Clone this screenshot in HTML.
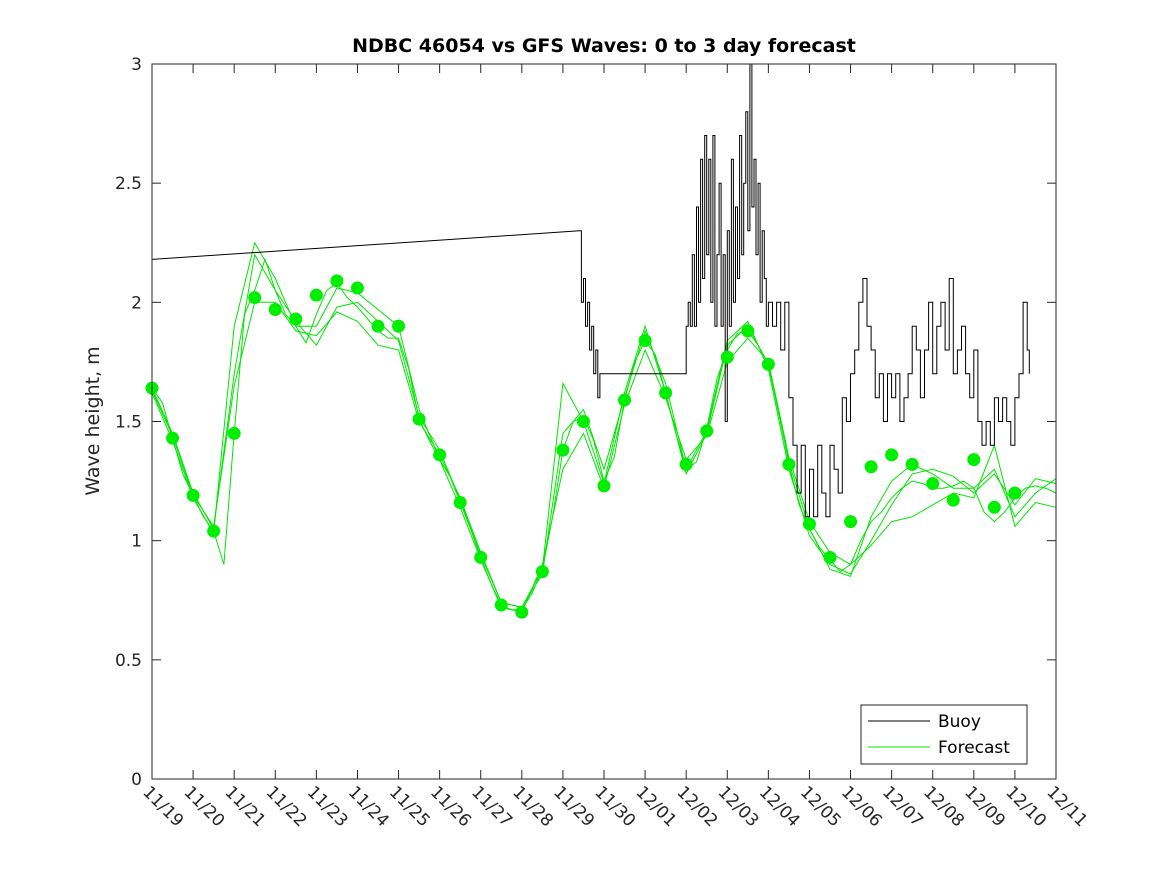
<!DOCTYPE html>
<html><head><meta charset="utf-8"><style>
body{margin:0;background:#fff;}
svg{display:block;font-family:"DejaVu Sans","Liberation Sans",sans-serif;}
</style></head><body>
<svg id="chart" width="1167" height="875" viewBox="0 0 1167 875" xmlns="http://www.w3.org/2000/svg">
<rect width="1167" height="875" fill="#fff"/>
<text x="604" y="52" text-anchor="middle" font-size="19" font-weight="bold" fill="#000">NDBC 46054 vs GFS Waves: 0 to 3 day forecast</text>
<text transform="translate(99,421) rotate(-90)" text-anchor="middle" font-size="19" fill="#262626">Wave height, m</text>
<g id="plot"></g>
</svg>
<script>
const xLabels=["11/19","11/20","11/21","11/22","11/23","11/24","11/25","11/26","11/27","11/28","11/29","11/30","12/01","12/02","12/03","12/04","12/05","12/06","12/07","12/08","12/09","12/10","12/11"];
const yTicks=[0,0.5,1,1.5,2,2.5,3];
const dotT=[0,0.5,1,1.5,2,2.5,3,3.5,4,4.5,5,5.5,6,6.5,7,7.5,8,8.5,9,9.5,10,10.5,11,11.5,12,12.5,13,13.5,14,14.5,15,15.5,16,16.5,17,17.5,18,18.5,19,19.5,20,20.5,21];
const dotV=[1.64,1.43,1.19,1.04,1.45,2.02,1.97,1.93,2.03,2.09,2.06,1.90,1.90,1.51,1.36,1.16,0.93,0.73,0.70,0.87,1.38,1.50,1.23,1.59,1.84,1.62,1.32,1.46,1.77,1.88,1.74,1.32,1.07,0.93,1.08,1.31,1.36,1.32,1.24,1.17,1.34,1.14,1.20];
const runBase=[1.64,1.58,1.43,1.28,1.19,1.10,1.04,0.90,1.45,1.95,2.05,2.18,2.05,1.95,1.90,1.83,1.95,2.05,2.08,2.02,1.98,1.93,1.88,1.85,1.85,1.72,1.51,1.42,1.34,1.27,1.16,1.05,0.93,0.82,0.73,0.71,0.71,0.78,0.88,1.10,1.38,1.50,1.52,1.42,1.25,1.35,1.59,1.75,1.84,1.78,1.62,1.45,1.30,1.33,1.47,1.68,1.80,1.87,1.88,1.82,1.74,1.55,1.32,1.15,1.05,0.97,0.92,0.87,0.90,1.00,1.08,1.12,1.18,1.22,1.25,1.24,1.22,1.22,1.23,1.25,1.22,1.12,1.08,1.12,1.18,1.22,1.23,1.22,1.20];
const run2=[1.64,1.45,1.20,1.05,1.70,2.20,2.05,1.92,1.82,1.98,2.00,1.92,1.84,1.52,1.38,1.17,0.94,0.74,0.72,0.86,1.45,1.55,1.30,1.60,1.88,1.66,1.30,1.46,1.84,1.92,1.72,1.30,1.02,0.90,0.86,1.00,1.15,1.28,1.30,1.27,1.20,1.28,1.15,1.26,1.24];
const run3=[1.62,1.42,1.18,1.03,1.90,2.25,2.10,1.90,1.90,2.06,2.04,1.97,1.90,1.55,1.34,1.14,0.92,0.72,0.70,0.90,1.30,1.45,1.22,1.57,1.80,1.60,1.34,1.44,1.75,1.85,1.75,1.35,1.08,0.95,0.90,0.98,1.08,1.10,1.15,1.20,1.18,1.40,1.06,1.16,1.14];
const run4=[1.63,1.44,1.19,1.06,1.65,2.00,2.00,1.88,1.86,1.96,1.92,1.82,1.80,1.50,1.36,1.18,0.95,0.74,0.72,0.88,1.66,1.50,1.24,1.62,1.90,1.62,1.28,1.45,1.82,1.90,1.74,1.33,1.05,0.88,0.85,1.10,1.25,1.32,1.28,1.22,1.22,1.30,1.10,1.20,1.26];
const buoyT=[0,10.4,10.45,10.5,10.55,10.6,10.65,10.7,10.75,10.8,10.85,10.9,13.0,13.05,13.1,13.15,13.2,13.25,13.3,13.35,13.4,13.45,13.5,13.55,13.6,13.65,13.7,13.75,13.8,13.85,13.9,13.95,14.0,14.05,14.1,14.15,14.2,14.25,14.3,14.35,14.4,14.45,14.5,14.55,14.6,14.65,14.7,14.75,14.8,14.85,14.9,14.95,15.0,15.1,15.2,15.3,15.4,15.5,15.6,15.7,15.8,15.9,16.0,16.1,16.2,16.3,16.4,16.5,16.6,16.7,16.8,16.9,17.0,17.1,17.2,17.3,17.4,17.5,17.6,17.7,17.8,17.9,18.0,18.1,18.2,18.3,18.4,18.5,18.6,18.7,18.8,18.9,19.0,19.1,19.2,19.3,19.4,19.5,19.6,19.7,19.8,19.9,20.0,20.1,20.2,20.3,20.4,20.5,20.6,20.7,20.8,20.9,21.0,21.1,21.2,21.3,21.35];
const buoyV=[2.18,2.30,2.0,2.1,1.9,2.0,1.8,1.9,1.7,1.8,1.6,1.7,1.9,2.0,1.9,2.2,1.9,2.4,2.0,2.6,2.1,2.7,2.2,2.6,2.0,2.7,1.9,2.2,2.5,1.9,2.2,1.5,2.3,1.9,2.6,2.0,2.4,2.1,2.7,2.2,2.5,2.8,2.3,3.0,2.4,2.6,2.2,2.5,2.0,2.3,2.1,1.9,2.0,1.9,2.0,1.8,2.0,1.6,1.4,1.2,1.4,1.1,1.3,1.1,1.4,1.2,1.1,1.4,1.3,1.2,1.6,1.5,1.7,1.8,2.0,2.1,1.9,1.8,1.6,1.7,1.5,1.7,1.6,1.7,1.5,1.6,1.7,1.9,1.8,1.6,1.8,2.0,1.7,1.9,2.0,1.8,2.1,1.7,1.8,1.9,1.7,1.6,1.8,1.5,1.4,1.5,1.4,1.6,1.5,1.6,1.5,1.4,1.6,1.7,2.0,1.8,1.7];

const X0=152,X1=1056,Y0=779,Y1=64,TMAX=22,VMAX=3;
const sx=t=>X0+(X1-X0)*t/TMAX;
const sy=v=>Y0-(Y0-Y1)*v/VMAX;
const NS="http://www.w3.org/2000/svg";
const g=document.getElementById('plot');
function mk(tag,attrs,parent){const e=document.createElementNS(NS,tag);for(const k in attrs)e.setAttribute(k,attrs[k]);(parent||g).appendChild(e);return e;}

function drawRun(vals,step,name){
  const pts=vals.map((v,i)=>sx(i*step).toFixed(1)+","+sy(v).toFixed(1)).join(" ");
  const p=mk('polyline',{points:pts,fill:'none',stroke:'#00e600','stroke-width':1});
  
  
}
drawRun(runBase,0.25,'forecast-line-1');
drawRun(run2,0.5,'forecast-line-2');
drawRun(run3,0.5,'forecast-line-3');
drawRun(run4,0.5,'forecast-line-4');

let bp=[];
for(let i=0;i<buoyT.length;i++){
  if(i>1){bp.push(sx(buoyT[i]).toFixed(1)+","+sy(buoyV[i-1]).toFixed(1));}
  bp.push(sx(buoyT[i]).toFixed(1)+","+sy(buoyV[i]).toFixed(1));
}
const bl=mk('polyline',{points:bp.join(" "),fill:'none',stroke:'#000','stroke-width':1});



for(let i=0;i<dotT.length;i++){
  const c=mk('circle',{cx:sx(dotT[i]),cy:sy(dotV[i]),r:6.5,fill:'#00ee00'});
  
  
}

const box=mk('rect',{x:X0,y:Y1,width:X1-X0,height:Y0-Y1,fill:'none',stroke:'#262626','stroke-width':1});



yTicks.forEach(v=>{
  const y=sy(v);
  mk('line',{x1:X0,y1:y,x2:X0+9,y2:y,stroke:'#262626'});
  mk('line',{x1:X1,y1:y,x2:X1-9,y2:y,stroke:'#262626'});
  const t=mk('text',{x:X0-10,y:y+6,'text-anchor':'end','font-size':17,fill:'#262626'});
  t.textContent=String(v);
  
  
});
xLabels.forEach((lab,i)=>{
  const x=sx(i);
  mk('line',{x1:x,y1:Y0,x2:x,y2:Y0-9,stroke:'#262626'});
  mk('line',{x1:x,y1:Y1,x2:x,y2:Y1+9,stroke:'#262626'});
  const t=mk('text',{transform:`translate(${x-10},${Y0+14}) rotate(45)`,'font-size':17,fill:'#262626'});
  t.textContent=lab;
  
  
});

const lg=mk('g',{});


mk('rect',{x:861,y:705,width:166,height:59,fill:'#fff',stroke:'#262626'},lg);
mk('line',{x1:868,y1:721,x2:930,y2:721,stroke:'#000'},lg);
const l1=mk('text',{x:938,y:727,'font-size':17,fill:'#000'},lg);l1.textContent='Buoy';


mk('line',{x1:868,y1:747,x2:930,y2:747,stroke:'#00e600'},lg);
const l2=mk('text',{x:938,y:753,'font-size':17,fill:'#000'},lg);l2.textContent='Forecast';


</script>
</body></html>
